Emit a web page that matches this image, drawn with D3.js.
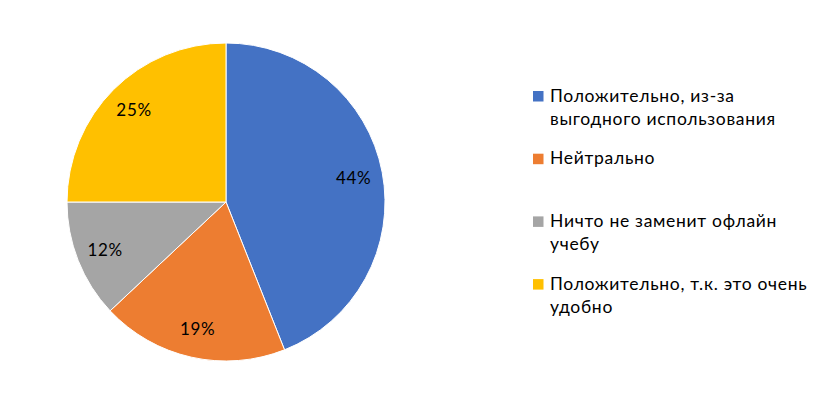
<!DOCTYPE html>
<html>
<head>
<meta charset="utf-8">
<script src="https://cdn.jsdelivr.net/npm/d3@7"></script>
<style>
  body { margin: 0; background: #fff; }
  svg text { font-family: Lato, "Open Sans", "Liberation Sans", sans-serif; fill: #000; letter-spacing: 0.7px; }
</style>
</head>
<body>
<div id="chart"></div>
<script>
// data
const categories = [
  ["Положительно, из-за", "выгодного использования"],
  ["Нейтрально"],
  ["Ничто не заменит офлайн", "учебу"],
  ["Положительно, т.к. это очень", "удобно"]
];
const values = [44, 19, 12, 25];
const colors = ["#4472C4", "#ED7D31", "#A5A5A5", "#FFC000"];

const w = 817, h = 397,
  cx = 226, cy = 202, r = 159, labelR = 130;

const svg = d3.select("#chart")
  .append("svg")
  .attr("width", w)
  .attr("height", h);

const pie = d3.pie().sort(null).value(d => d);
const arcs = pie(values);

const arc = d3.arc().innerRadius(0).outerRadius(r);
const labelArc = d3.arc().innerRadius(labelR).outerRadius(labelR);

const g = svg.append("g").attr("transform", `translate(${cx},${cy})`);

g.selectAll("path")
  .data(arcs)
  .enter()
  .append("path")
  .attr("d", arc)
  .attr("fill", (d, i) => colors[i])
  .attr("stroke", "#fff")
  .attr("stroke-width", 1);

g.selectAll("text")
  .data(arcs)
  .enter()
  .append("text")
  .attr("transform", d => `translate(${labelArc.centroid(d)})`)
  .attr("text-anchor", "middle")
  .attr("dy", "0.36em")
  .style("font-size", "17px")
  .text(d => d.data + "%");

// legend
const legend = svg.append("g").attr("transform", "translate(533,0)");
const item = legend.selectAll("g")
  .data(categories)
  .enter()
  .append("g")
  .attr("transform", (d, i) => `translate(0,${101.5 + i * 62.7})`);

item.append("rect")
  .attr("x", 0)
  .attr("y", -10.5)
  .attr("width", 10.5)
  .attr("height", 10.5)
  .attr("fill", (d, i) => colors[i]);

item.append("text")
  .style("font-size", "17.5px")
  .selectAll("tspan")
  .data(d => d)
  .enter()
  .append("tspan")
  .attr("x", 17)
  .attr("y", (d, i) => i * 23.5)
  .text(d => d);
</script>
</body>
</html>
